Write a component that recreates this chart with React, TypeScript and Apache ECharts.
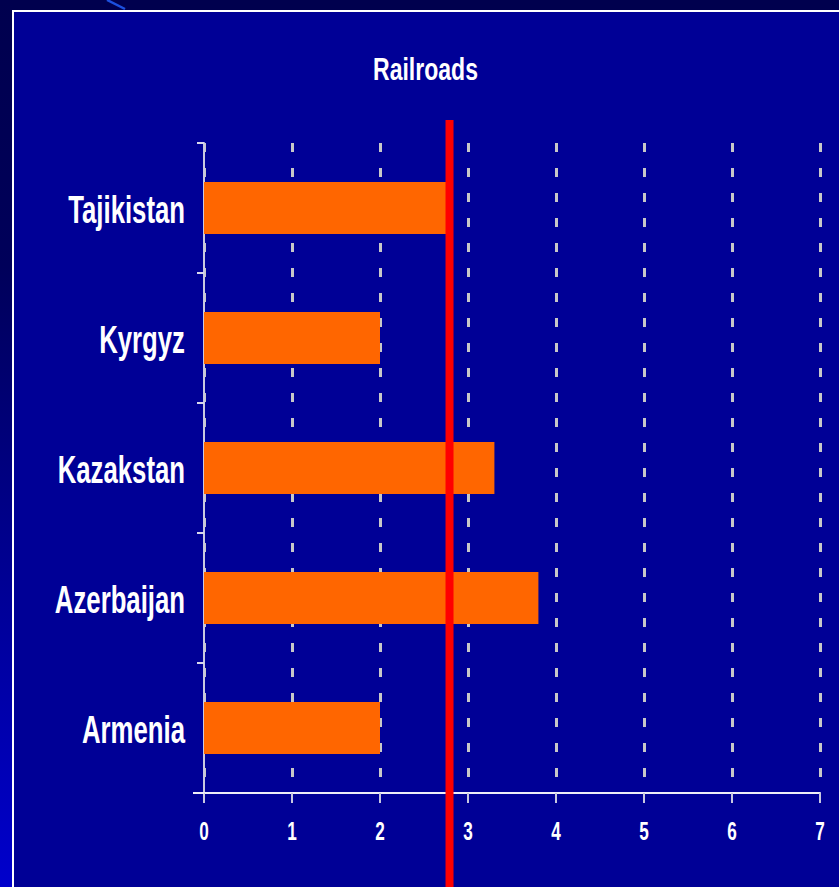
import React, { useEffect, useRef } from "react";
import * as echarts from "echarts";

const titleText = "Railroads";
const countries = ["Armenia", "Azerbaijan", "Kazakstan", "Kyrgyz", "Tajikistan"];
const railroadValues = [2.0, 3.8, 3.3, 2.0, 2.8];
const averageValue = 2.79;
const xTicks = [0, 1, 2, 3, 4, 5, 6, 7];

const FONT = "'Liberation Sans', Arial, sans-serif";
const SQUEEZE = 0.66;
const W = 839;
const H = 887;

export default function App() {
  const ref = useRef<HTMLDivElement>(null);
  useEffect(() => {
    if (!ref.current) return;
    const chart = echarts.init(ref.current, undefined, { renderer: "svg" });
    const option: any = {
      animation: false,
      backgroundColor: "#000096",
      grid: { left: 204, right: W - 820, top: 143, bottom: H - 793, containLabel: false },
      xAxis: {
        type: "value",
        min: xTicks[0],
        max: xTicks[xTicks.length - 1],
        interval: 1,
        axisLine: { show: true, lineStyle: { color: "#eeeef8", width: 2 } },
        axisTick: { show: true, length: 10, lineStyle: { color: "#c8c8e0", width: 2 } },
        axisLabel: { show: false },
        splitLine: { show: true, lineStyle: { color: "#c8c8c8", width: 3, type: [9, 16] } },
      },
      yAxis: {
        type: "category",
        data: countries,
        axisLine: { show: true, lineStyle: { color: "#c8c8e0", width: 2 } },
        axisTick: { show: true, length: 7, lineStyle: { color: "#d8d8ec", width: 2 } },
        axisLabel: { show: false },
        splitLine: { show: false },
      },
      series: [
        {
          type: "bar",
          data: railroadValues,
          barWidth: "40%",
          itemStyle: { color: "#ff6600" },
          z: 3,
        },
      ],
    };
    chart.setOption(option);

    const rect = (chart.getModel().getComponent("grid") as any).coordinateSystem.getRect();
    const avgPt = chart.convertToPixel({ gridIndex: 0 }, [averageValue, 0]) as number[];
    const bottomY = rect.y + rect.height;

    const textEl = (text: string, x: number, y: number, size: number, align: string, sx: number) => ({
      type: "text",
      x,
      y,
      scaleX: sx,
      z: 50,
      style: {
        text,
        fill: "#ffffff",
        fontFamily: FONT,
        fontWeight: "bold",
        fontSize: size,
        align,
        verticalAlign: "middle",
      },
    });

    const catLabels = countries.map((c) => {
      const p = chart.convertToPixel({ gridIndex: 0 }, [0, c]) as number[];
      return textEl(c, rect.x - 19, p[1] + 1, 39, "right", SQUEEZE);
    });
    const tickLabels = xTicks.map((v) => {
      const p = chart.convertToPixel({ gridIndex: 0 }, [v, 0]) as number[];
      return textEl(String(v), p[0], bottomY + 38, 26, "center", SQUEEZE);
    });

    chart.setOption({
      graphic: [
        {
          type: "rect",
          shape: { x: 0, y: 0, width: W, height: 10 },
          style: { fill: "#00004e" },
          z: 1,
        },
        {
          type: "rect",
          shape: { x: 0, y: 0, width: 12, height: H },
          style: {
            fill: new echarts.graphic.LinearGradient(0, 0, 0, 1, [
              { offset: 0, color: "#00004e" },
              { offset: 0.3, color: "#00005a" },
              { offset: 1, color: "#0000cc" },
            ]),
          },
          z: 1,
        },
        {
          type: "line",
          shape: { x1: 107, y1: 0, x2: 125, y2: 9 },
          style: { stroke: "#1c50e0", lineWidth: 2.5 },
          z: 2,
        },
        {
          type: "polyline",
          shape: { points: [[13, H], [13, 11], [W, 11]] },
          style: { stroke: "#ffffff", lineWidth: 2, fill: null },
          z: 2,
        },
        {
          type: "line",
          shape: { x1: rect.x - 11, y1: bottomY, x2: rect.x, y2: bottomY },
          style: { stroke: "#eeeef8", lineWidth: 2 },
          z: 2,
        },
        {
          type: "line",
          shape: { x1: avgPt[0], y1: rect.y - 23, x2: avgPt[0], y2: H },
          style: { stroke: "#ff0000", lineWidth: 8 },
          z: 100,
        },
        textEl(titleText, 425.5, 69, 32, "center", 0.72),
        ...catLabels,
        ...tickLabels,
      ],
    });
    return () => chart.dispose();
  }, []);
  return (
    <div
      ref={ref}
      style={{ position: "fixed", left: 0, top: 0, width: W, height: H }}
    />
  );
}
